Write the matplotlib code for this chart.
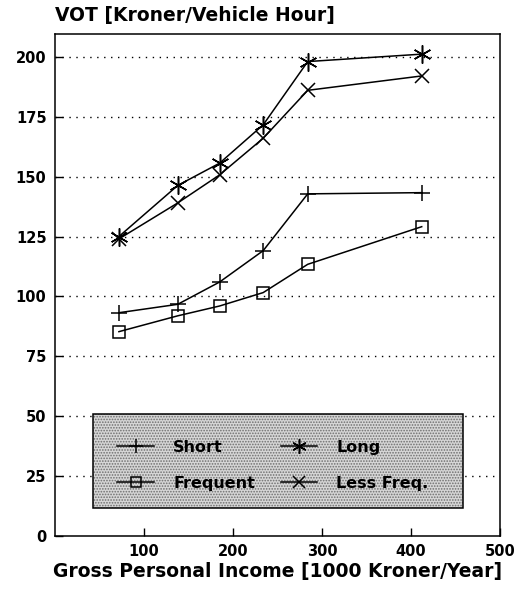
import matplotlib
matplotlib.use('Agg')
import matplotlib.pyplot as plt
from matplotlib.patches import Rectangle

plt.rcParams['font.family'] = ['DejaVu Sans']
plt.rcParams['font.weight'] = 'bold'
plt.rcParams['hatch.color'] = '#6e6e6e'
plt.rcParams['hatch.linewidth'] = 0.8

# income groups (1000 Kroner/Year) and value of time per trip type
income = [72, 138, 185, 234, 284, 412]
short = [93.2, 96.7, 106.0, 119.1, 142.8, 143.3]
frequent = [85.3, 91.9, 96.0, 101.6, 113.4, 129.1]
long_trips = [125.0, 146.3, 155.6, 171.6, 198.0, 201.1]
less_freq = [124.0, 139.0, 150.7, 166.0, 186.0, 192.0]

y_ticks = [0, 25, 50, 75, 100, 125, 150, 175, 200]
x_ticks = [100, 200, 300, 400, 500]

fig = plt.figure(figsize=(5.22, 6.03), dpi=100)
ax = fig.add_axes([0.105, 0.111, 0.853, 0.833])

asterisk = (6, 2, 0)
style = dict(color='black', lw=1.1, mfc='none', mew=1.1)
ax.plot(income, short, marker='+', ms=12, label='Short', **style)
ax.plot(income, frequent, marker='s', ms=9, label='Frequent', **style)
ax.plot(income, long_trips, marker=asterisk, ms=13, label='Long', **style)
ax.plot(income, less_freq, marker='x', ms=10, label='Less Freq.', **style)

ax.set_xlim(0, 498)
ax.set_ylim(0, 209.6)
ax.set_yticks(y_ticks)
ax.set_xticks(x_ticks)
ax.tick_params(direction='in', length=6, width=1, labelsize=10.5)
ax.tick_params(axis='y', pad=6)
ax.tick_params(axis='x', pad=6)
for t in ax.get_xticklabels() + ax.get_yticklabels():
    t.set_fontweight('bold')

# dotted horizontal grid, skipping the zero line
for yv in y_ticks[1:]:
    ax.axhline(yv, color='black', lw=1, ls=(0, (1, 4)), zorder=0)

for s in ax.spines.values():
    s.set_linewidth(1.1)

# stippled box behind the legend
shade = Rectangle((0.086, 0.056), 0.831, 0.188, transform=ax.transAxes,
                  facecolor='#d6d6d6', edgecolor='#6e6e6e', lw=0,
                  hatch='......', zorder=3)
frame = Rectangle((0.086, 0.056), 0.831, 0.188, transform=ax.transAxes,
                  facecolor='none', edgecolor='black', lw=1.1, zorder=3.1)
ax.add_patch(shade)
ax.add_patch(frame)
leg = ax.legend(ncol=2, loc='center', bbox_to_anchor=(0.49, 0.141),
                frameon=False, handlelength=2.3, markerscale=0.8,
                columnspacing=1.6, labelspacing=1.3, handletextpad=1.2,
                prop={'weight': 'bold', 'size': 11.5})
leg.set_zorder(4)

fig.text(0.106, 0.974, 'VOT [Kroner/Vehicle Hour]', fontsize=13.5,
         fontweight='bold', ha='left', va='center')
ax.set_xlabel('Gross Personal Income [1000 Kroner/Year]', fontsize=13.5,
              fontweight='bold', labelpad=2)

fig.savefig('out.png', dpi=100)
